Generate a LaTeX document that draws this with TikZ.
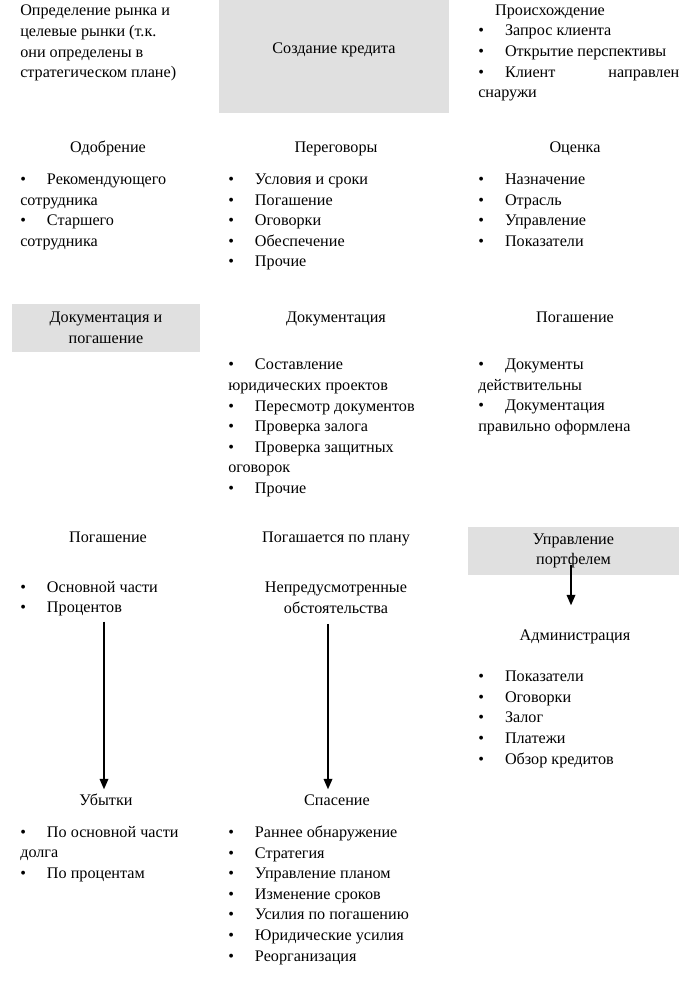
\documentclass[tikz,border=0pt]{standalone}
\usepackage{fontspec}
\setmainfont{Liberation Serif}
\usetikzlibrary{arrows.meta,positioning,calc}

\newcommand{\itm}{\makebox[19pt][l]{\textbullet}}

\begin{document}
\begin{tikzpicture}[
    x=0.025cm, y=-0.025cm,
    every node/.style={font=\fontsize{11.5}{14.6}\selectfont, inner sep=0pt},
    head/.style={anchor=center, align=center, text height=10.8pt, text depth=2.5pt},
    list/.style={anchor=north west, align=left},
    grbox/.style={fill=black!12, align=center},
    arrow/.style={-{Triangle[length=2.6mm, width=2.1mm]}, line width=1.4pt}
]
\useasboundingbox (0,0) rectangle (699,1000);

% Row 1: credit creation
\node[list] (market) at (20,5) {Определение рынка и\\целевые рынки (т.к.\\они определены в\\стратегическом плане)};
\node[grbox, minimum width=5.75cm, minimum height=2.825cm, anchor=north west] (credit) at (219,0) {};
\node[head] (creditt) at (334,48) {Создание кредита};
\node[head] (origin) at (550,10) {Происхождение};
\node[list] (originl) at (478,25) {\itm Запрос клиента\\\itm Открытие перспективы\\\makebox[5.025cm][l]{\itm Клиент\hfill направлен}\\снаружи};

% Row 2
\node[head] (approval) at (108,147) {Одобрение};
\node[list] (approvall) at (20,174) {\itm Рекомендующего\\сотрудника\\\itm Старшего\\сотрудника};
\node[head] (negot) at (336,147) {Переговоры};
\node[list] (negotl) at (228,174) {\itm Условия и сроки\\\itm Погашение\\\itm Оговорки\\\itm Обеспечение\\\itm Прочие};
\node[head] (assess) at (575,147) {Оценка};
\node[list] (assessl) at (478,174) {\itm Назначение\\\itm Отрасль\\\itm Управление\\\itm Показатели};

% Row 3: documentation
\node[grbox, minimum width=4.7cm, minimum height=1.175cm] (docrep) at (106,328) {Документация и\\погашение};
\node[head] (docs) at (336,317) {Документация};
\node[list] (docsl) at (228,359) {\itm Составление\\юридических проектов\\\itm Пересмотр документов\\\itm Проверка залога\\\itm Проверка защитных\\оговорок\\\itm Прочие};
\node[head] (repay) at (575,317) {Погашение};
\node[list] (repayl) at (478,359) {\itm Документы\\действительны\\\itm Документация\\правильно оформлена};

% Row 4: portfolio
\node[head] (repay2) at (108,537) {Погашение};
\node[list] (repay2l) at (20,581) {\itm Основной части\\\itm Процентов};
\node[head] (plan) at (336,537) {Погашается по плану};
\node[align=center] (unfore) at (336,598) {Непредусмотренные\\обстоятельства};
\node[grbox, minimum width=5.275cm, minimum height=1.2cm] (portf) at (573.5,551) {Управление\\портфелем};
\node[head] (admin) at (575,635) {Администрация};
\node[list] (adminl) at (478,671) {\itm Показатели\\\itm Оговорки\\\itm Залог\\\itm Платежи\\\itm Обзор кредитов};

% Row 5
\node[head] (losses) at (106,800) {Убытки};
\node[list] (lossesl) at (20,826) {\itm По основной части\\долга\\\itm По процентам};
\node[head] (rescue) at (337,800) {Спасение};
\node[list] (rescuel) at (228,826) {\itm Раннее обнаружение\\\itm Стратегия\\\itm Управление планом\\\itm Изменение сроков\\\itm Усилия по погашению\\\itm Юридические усилия\\\itm Реорганизация};

% Arrows
\draw[arrow] ($(repay2l.south -| losses.north)+(-2,5)$) -- ($(losses.north)+(-2,-1)$);
\draw[arrow] ($(unfore.south)+(-8,10)$) -- ($(rescue.north)+(-9,-1)$);
\draw[arrow] ($(portf.south)+(-2.5,-10)$) -- ($(admin.north)+(-4,-20)$);

\end{tikzpicture}
\end{document}
